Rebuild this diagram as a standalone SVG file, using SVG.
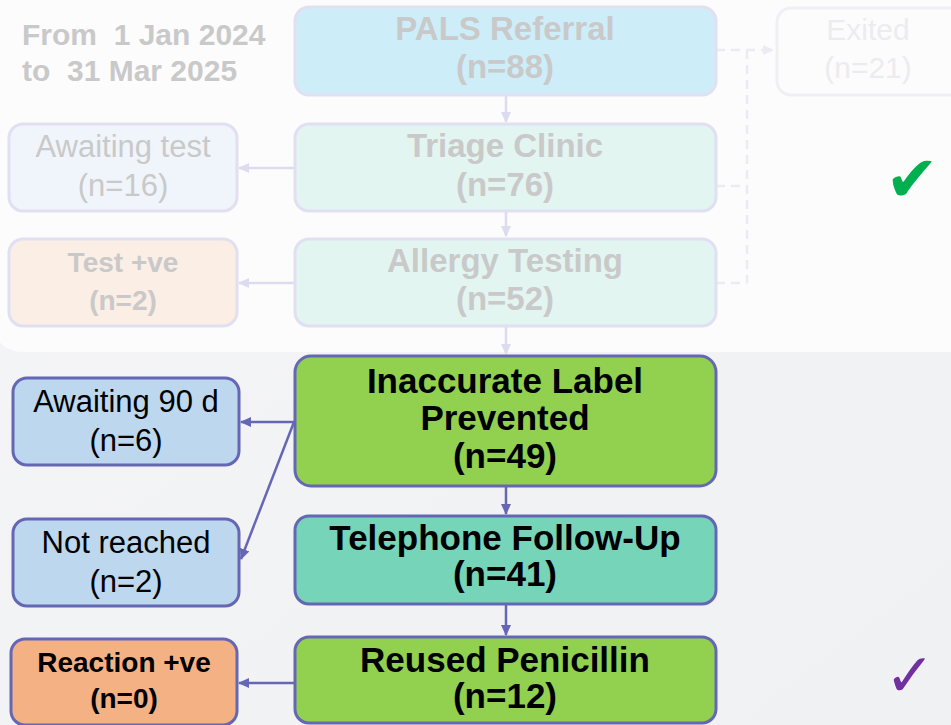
<svg xmlns="http://www.w3.org/2000/svg" width="951" height="725" viewBox="0 0 951 725">
<style>
.t{font-family:"Liberation Sans",Arial,sans-serif;text-anchor:middle}
.b{font-weight:bold}
.fd{fill:#c9c9c9}
.bk{fill:#000}
.act{stroke:#6567b5;stroke-width:3}
.fad{stroke:#e1dff2;stroke-width:3}
.ca{stroke:#6567b5;stroke-width:2.5;fill:none}
.cf{stroke:#dcdbef;stroke-width:2.5;fill:none}
.cd{stroke:#ebebf2;stroke-width:2.5;fill:none;stroke-dasharray:9 6}
</style>
<defs>
<marker id="aa" markerUnits="userSpaceOnUse" markerWidth="12" markerHeight="10" refX="10" refY="5" orient="auto"><path d="M0,0 L11,5 L0,10 z" fill="#6567b5"/></marker>
<marker id="af" markerUnits="userSpaceOnUse" markerWidth="12" markerHeight="10" refX="10" refY="5" orient="auto"><path d="M0,0 L11,5 L0,10 z" fill="#dcdbef"/></marker>
<marker id="ad" markerUnits="userSpaceOnUse" markerWidth="12" markerHeight="10" refX="10" refY="5" orient="auto"><path d="M0,0 L11,5 L0,10 z" fill="#ebebf2"/></marker>
<linearGradient id="bg" x1="0" y1="0" x2="1" y2="1"><stop offset="0" stop-color="#f5f5f7"/><stop offset="1" stop-color="#f0f1f3"/></linearGradient>
</defs>
<rect x="0" y="0" width="951" height="725" fill="url(#bg)"/>
<rect x="-8" y="-40" width="1000" height="392" rx="30" fill="#fcfcfd"/>

<text class="t b fd" x="22" y="45" font-size="30" style="text-anchor:start;white-space:pre" xml:space="preserve">From  1 Jan 2024</text>
<text class="t b fd" x="22" y="81" font-size="30" style="text-anchor:start;white-space:pre" xml:space="preserve">to  31 Mar 2025</text>

<g id="connectors">
<line class="cf" x1="506" y1="96" x2="506" y2="122" marker-end="url(#af)"/>
<line class="cf" x1="506" y1="212" x2="506" y2="236" marker-end="url(#af)"/>
<line class="cf" x1="506" y1="327" x2="506" y2="354" marker-end="url(#af)"/>
<line class="cf" x1="294" y1="168" x2="239" y2="168" marker-end="url(#af)"/>
<line class="cf" x1="294" y1="283" x2="239" y2="283" marker-end="url(#af)"/>
<path class="cd" d="M716,50 H773" marker-end="url(#ad)"/>
<path class="cd" d="M747,50 V283"/>
<path class="cd" d="M716,186 H747"/>
<path class="cd" d="M716,283 H747"/>
<line class="ca" x1="294" y1="422" x2="241" y2="422" marker-end="url(#aa)"/>
<line class="ca" x1="294" y1="422" x2="241" y2="559" marker-end="url(#aa)"/>
<line class="ca" x1="506" y1="487" x2="506" y2="514" marker-end="url(#aa)"/>
<line class="ca" x1="506" y1="605" x2="506" y2="635" marker-end="url(#aa)"/>
<line class="ca" x1="294" y1="683" x2="239" y2="683" marker-end="url(#aa)"/>
</g>

<g id="pals">
<rect class="fad" x="295" y="7" width="421" height="88" rx="14" fill="#cdeef9"/>
<text class="t b fd" x="505" y="40" font-size="33">PALS Referral</text>
<text class="t b fd" x="505" y="78" font-size="33">(n=88)</text>
</g>
<g id="exited">
<rect x="777" y="8" width="200" height="87" rx="14" fill="#fcfcfd" stroke="#f0f0f4" stroke-width="3"/>
<text class="t" x="868" y="40" font-size="30" fill="#ececef">Exited</text>
<text class="t" x="868" y="78" font-size="30" fill="#ececef">(n=21)</text>
</g>
<g id="triage">
<rect class="fad" x="295" y="124" width="421" height="87" rx="14" fill="#e3f5f1"/>
<text class="t b fd" x="505" y="157" font-size="33">Triage Clinic</text>
<text class="t b fd" x="505" y="196" font-size="33">(n=76)</text>
</g>
<g id="allergy">
<rect class="fad" x="295" y="239" width="421" height="87" rx="14" fill="#e3f5f1"/>
<text class="t b fd" x="505" y="272" font-size="33">Allergy Testing</text>
<text class="t b fd" x="505" y="310" font-size="33">(n=52)</text>
</g>
<g id="awaiting-test">
<rect class="fad" x="9" y="124" width="228" height="87" rx="14" fill="#f0f5fb"/>
<text class="t fd" x="123" y="157" font-size="31">Awaiting test</text>
<text class="t fd" x="123" y="196" font-size="31">(n=16)</text>
</g>
<g id="test-pos">
<rect class="fad" x="9" y="239" width="228" height="87" rx="14" fill="#fbeee5"/>
<text class="t b fd" x="123" y="272" font-size="28">Test +ve</text>
<text class="t b fd" x="123" y="310" font-size="28">(n=2)</text>
</g>

<g id="inaccurate">
<rect class="act" x="295" y="356" width="421" height="130" rx="16" fill="#92d050"/>
<text class="t b bk" x="505" y="393" font-size="35">Inaccurate Label</text>
<text class="t b bk" x="505" y="430" font-size="35">Prevented</text>
<text class="t b bk" x="505" y="468" font-size="35">(n=49)</text>
</g>
<g id="telephone">
<rect class="act" x="295" y="516" width="421" height="88" rx="14" fill="#76d5b8"/>
<text class="t b bk" x="505" y="550" font-size="35">Telephone Follow-Up</text>
<text class="t b bk" x="505" y="586" font-size="35">(n=41)</text>
</g>
<g id="reused">
<rect class="act" x="295" y="637" width="421" height="86" rx="14" fill="#92d050"/>
<text class="t b bk" x="505" y="672" font-size="35">Reused Penicillin</text>
<text class="t b bk" x="505" y="708" font-size="35">(n=12)</text>
</g>
<g id="awaiting-90">
<rect class="act" x="13" y="378" width="226" height="87" rx="14" fill="#bdd7ee"/>
<text class="t bk" x="126" y="412" font-size="31">Awaiting 90 d</text>
<text class="t bk" x="126" y="451" font-size="31">(n=6)</text>
</g>
<g id="not-reached">
<rect class="act" x="13" y="519" width="226" height="87" rx="14" fill="#bdd7ee"/>
<text class="t bk" x="126" y="553" font-size="31">Not reached</text>
<text class="t bk" x="126" y="592" font-size="31">(n=2)</text>
</g>
<g id="reaction">
<rect class="act" x="11" y="639" width="226" height="86" rx="14" fill="#f4b183"/>
<text class="t b bk" x="124" y="672" font-size="28">Reaction +ve</text>
<text class="t b bk" x="124" y="708" font-size="28">(n=0)</text>
</g>

<text x="912" y="201" font-family="DejaVu Sans,sans-serif" font-size="64" fill="#00b050" text-anchor="middle">✔</text>
<text x="910" y="696" font-family="DejaVu Sans,sans-serif" font-size="60" fill="#7030a0" text-anchor="middle">✓</text>
</svg>
